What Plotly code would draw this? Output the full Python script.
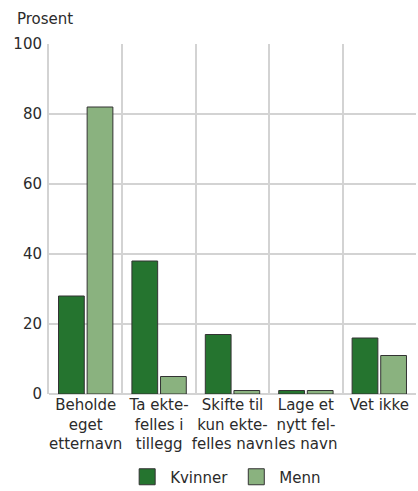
import plotly.graph_objects as go

categories = [
    "Beholde<br>eget<br>etternavn",
    "Ta ekte-<br>felles i<br>tillegg",
    "Skifte til<br>kun ekte-<br>felles navn",
    "Lage et<br>nytt fel-<br>les navn",
    "Vet ikke",
]
kvinner = [28, 38, 17, 1, 16]
menn = [82, 5, 1, 1, 11]
y_ticks = [0, 20, 40, 60, 80, 100]

FONT = "DejaVu Sans"
GRID = "#d3d3d3"
TEXT = "#2b2b2b"
C_K = "#25742f"
C_M = "#8ab27f"
EDGE = "#333333"

fig = go.Figure()
fig.add_trace(go.Bar(x=categories, y=kvinner, name="Kvinner", showlegend=False,
                     marker=dict(color=C_K, line=dict(color=EDGE, width=1))))
fig.add_trace(go.Bar(x=categories, y=menn, name="Menn", showlegend=False,
                     marker=dict(color=C_M, line=dict(color=EDGE, width=1))))
# legend entries with larger square swatches
for name, col in [("Kvinner", C_K), ("Menn", C_M)]:
    fig.add_trace(go.Scatter(x=[None], y=[None], mode="markers", name=name,
                             marker=dict(symbol="square", size=16, color=col,
                                         line=dict(color=EDGE, width=1))))

fig.update_layout(
    width=418, height=491,
    margin=dict(l=49, r=2, t=44, b=97, autoexpand=False),
    paper_bgcolor="white", plot_bgcolor="white",
    barmode="group", bargap=0.22, bargroupgap=0.1,
    font=dict(family=FONT, size=15, color=TEXT),
    showlegend=True,
    legend=dict(orientation="h", x=0.48, xanchor="center", y=-0.19, yanchor="top",
                itemsizing="trace", itemwidth=36,
                font=dict(size=15, color=TEXT), traceorder="normal"),
    xaxis=dict(tickson="boundaries", showgrid=True, gridcolor=GRID, gridwidth=2,
               ticks="", showline=False, tickangle=0, automargin=False,
               tickfont=dict(size=15, color=TEXT),
               range=[-0.5, 4.5], fixedrange=True),
    yaxis=dict(range=[0, 100], tickvals=y_ticks, showgrid=True, gridcolor=GRID, gridwidth=2,
               showline=True, linecolor=GRID, linewidth=2, zeroline=True, automargin=False,
               zerolinecolor=GRID, zerolinewidth=2, ticks="", ticklabelstandoff=2,
               tickfont=dict(size=15, color=TEXT), fixedrange=True),
    annotations=[dict(text="Prosent", xref="paper", yref="paper", x=0, y=1,
                      xanchor="left", yanchor="bottom", xshift=-34, yshift=14,
                      showarrow=False, font=dict(size=15, color=TEXT))],
)

fig.write_html("out.html", config={"displayModeBar": False},
               post_script="document.body.style.margin='0';")
